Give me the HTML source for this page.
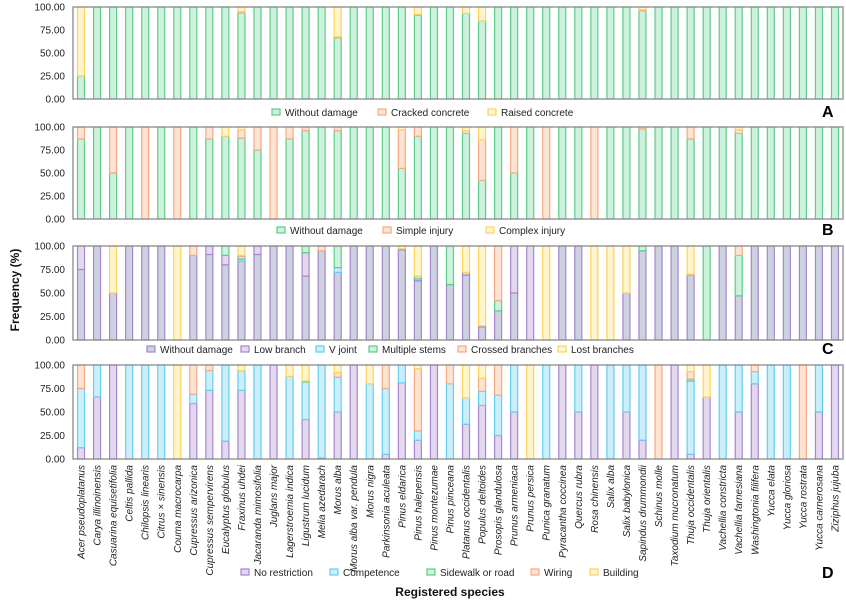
<!DOCTYPE html>
<html><head><meta charset="utf-8"><style>
html,body{margin:0;padding:0;background:#fff;}
svg{display:block;font-family:"Liberation Sans","DejaVu Sans",sans-serif;}
</style></head><body>
<svg id="chart" width="846" height="606" viewBox="0 0 846 606" xmlns="http://www.w3.org/2000/svg">
<text transform="translate(19,290) rotate(-90)" text-anchor="middle" font-size="12" font-weight="bold" fill="#111">Frequency (%)</text>
<text x="450" y="596" text-anchor="middle" font-size="12" font-weight="bold" fill="#111">Registered species</text>
</svg>
<script>
const species = ["Acer pseudoplatanus","Carya illinoinensis","Casuarina equisetifolia","Celtis pallida","Chilopsis linearis","Citrus × sinensis","Couma macrocarpa","Cupressus arizonica","Cupressus sempervirens","Eucalyptus globulus","Fraxinus uhdei","Jacaranda mimosifolia","Juglans major","Lagerstroemia indica","Ligustrum lucidum","Melia azedarach","Morus alba","Morus alba var. pendula","Morus nigra","Parkinsonia aculeata","Pinus eldarica","Pinus halepensis","Pinus montezumae","Pinus pinceana","Platanus occidentalis","Populus deltoides","Prosopis glandulosa","Prunus armeniaca","Prunus persica","Punica granatum","Pyracantha coccinea","Quercus rubra","Rosa chinensis","Salix alba","Salix babylonica","Sapindus drummondii","Schinus molle","Taxodium mucronatum","Thuja occidentalis","Thuja orientalis","Vachellia constricta","Vachellia farnesiana","Washingtonia filifera","Yucca elata","Yucca gloriosa","Yucca rostrata","Yucca carnerosana","Ziziphus jujuba"];
const tickLabels = ["0.00","25.00","50.00","75.00","100.00"];
const tickValues = [0,25,50,75,100];

const A_withoutDamage = [25,100,100,100,100,100,100,100,100,100,93.5,100, 100,100,100,100,66.7,100,100,100,100,91,100,100, 93,85,100,100,100,100,100,100,100,100,100,96, 100,100,100,100,100,100,100,100,100,100,100,100];
const A_cracked = [0,0,0,0,0,0,0,0,0,0,1.5,0, 0,0,0,0,1,0,0,0,0,1,0,0, 0,0,0,0,0,0,0,0,0,0,0,1, 0,0,0,0,0,0,0,0,0,0,0,0];
const A_raised = [75,0,0,0,0,0,0,0,0,0,5,0, 0,0,0,0,32.3,0,0,0,0,8,0,0, 7,15,0,0,0,0,0,0,0,0,0,3, 0,0,0,0,0,0,0,0,0,0,0,0];

const B_withoutDamage = [87,100,50,100,0,100,0,100,87,90,88,75, 0,87,96,100,96,100,100,100,55,90,100,100, 93,42,100,50,100,0,100,100,0,100,100,98, 100,100,87,100,100,93,100,100,100,100,100,100];
const B_simple = [13,0,50,0,100,0,100,0,13,0,9,25, 100,13,4,0,4,0,0,0,42,10,0,0, 3,44,0,50,0,100,0,0,100,0,0,2, 0,0,13,0,0,4,0,0,0,0,0,0];
const B_complex = [0,0,0,0,0,0,0,0,0,10,3,0, 0,0,0,0,0,0,0,0,3,0,0,0, 4,14,0,0,0,0,0,0,0,0,0,0, 0,0,0,0,0,3,0,0,0,0,0,0];

const C_withoutDamage = [75,100,50,100,100,100,0,90,91,80,84,91, 100,100,68,95,72,100,100,100,96,63,100,59, 69,14,31,50,0,0,100,100,0,0,50,95, 100,100,69,0,100,47,100,100,100,100,100,100];
const C_lowBranch = [25,0,0,0,0,0,0,0,9,10,0,9, 0,0,25,0,0,0,0,0,1,2,0,0, 3,1,0,50,100,0,0,0,0,0,0,0, 0,0,0,0,0,0,0,0,0,0,0,0];
const C_vJoint = [0,0,0,0,0,0,0,0,0,0,2,0, 0,0,0,0,5,0,0,0,0,0,0,0, 0,0,0,0,0,0,0,0,0,0,0,0, 0,0,0,0,0,0,0,0,0,0,0,0];
const C_multiStems = [0,0,0,0,0,0,0,0,0,10,3,0, 0,0,7,0,23,0,0,0,0,3,0,41, 0,0,11,0,0,0,0,0,0,0,0,5, 0,0,0,100,0,43,0,0,0,0,0,0];
const C_crossed = [0,0,0,0,0,0,0,10,0,0,1,0, 0,0,0,5,0,0,0,0,0,0,0,0, 0,0,58,0,0,0,0,0,0,0,0,0, 0,0,1,0,0,10,0,0,0,0,0,0];
const C_lost = [0,0,50,0,0,0,100,0,0,0,10,0, 0,0,0,0,0,0,0,0,3,32,0,0, 28,85,0,0,0,100,0,0,100,100,50,0, 0,0,30,0,0,0,0,0,0,0,0,0];

const D_noRestriction = [12,66,100,0,0,0,0,59,73,19,73,0, 100,0,42,1,50,100,0,5,81,20,100,0, 37,57,25,50,0,0,100,50,100,0,50,20, 0,100,5,66,0,50,80,0,0,0,50,100];
const D_competence = [63,34,0,100,100,100,0,10,21,81,21,100, 0,88,40,99,37,0,80,70,19,10,0,80, 28,15,43,50,0,100,0,50,0,100,50,80, 0,0,78,0,100,50,13,100,100,0,50,0];
const D_sidewalk = [0,0,0,0,0,0,0,0,0,0,0,0, 0,0,1,0,0,0,0,0,0,0,0,0, 0,0,0,0,0,0,0,0,0,0,0,0, 0,0,2,0,0,0,0,0,0,0,0,0];
const D_wiring = [25,0,0,0,0,0,0,31,6,0,0,0, 0,0,0,0,5,0,0,25,0,66,0,20, 0,14,32,0,0,0,0,0,0,0,0,0, 100,0,8,0,0,0,7,0,0,100,0,0];
const D_building = [0,0,0,0,0,0,100,0,0,0,6,0, 0,12,17,0,8,0,20,0,0,4,0,0, 35,14,0,0,100,0,0,0,0,0,0,0, 0,0,7,34,0,0,0,0,0,0,0,0];

const COL = {
  green:["#cdf2dc","#5fcb8c"], orange:["#fde3d2","#f4aa84"], yellow:["#fff4cc","#fbd45e"],
  gray:["#cdd1e0","#a487cf"], lilac:["#e4d8ef","#a487cf"], blue:["#cbeefb","#66cdf0"]
};
const panels = [
  {id:"a", letter:"A", top:7, bottom:99, legendY:115, series:[
    {name:"Without damage", v:A_withoutDamage, c:COL.green, lx:272},
    {name:"Cracked concrete", v:A_cracked, c:COL.orange, lx:378},
    {name:"Raised concrete", v:A_raised, c:COL.yellow, lx:488}]},
  {id:"b", letter:"B", top:127, bottom:219, legendY:233, series:[
    {name:"Without damage", v:B_withoutDamage, c:COL.green, lx:277},
    {name:"Simple injury", v:B_simple, c:COL.orange, lx:383},
    {name:"Complex injury", v:B_complex, c:COL.yellow, lx:486}]},
  {id:"c", letter:"C", top:246, bottom:340, legendY:352, series:[
    {name:"Without damage", v:C_withoutDamage, c:COL.gray, lx:147},
    {name:"Low branch", v:C_lowBranch, c:COL.lilac, lx:241},
    {name:"V joint", v:C_vJoint, c:COL.blue, lx:316},
    {name:"Multiple stems", v:C_multiStems, c:COL.green, lx:369},
    {name:"Crossed branches", v:C_crossed, c:COL.orange, lx:458},
    {name:"Lost branches", v:C_lost, c:COL.yellow, lx:558}]},
  {id:"d", letter:"D", top:365, bottom:459, legendY:575, series:[
    {name:"No restriction", v:D_noRestriction, c:COL.lilac, lx:241},
    {name:"Competence", v:D_competence, c:COL.blue, lx:330},
    {name:"Sidewalk or road", v:D_sidewalk, c:COL.green, lx:427},
    {name:"Wiring", v:D_wiring, c:COL.orange, lx:531},
    {name:"Building", v:D_building, c:COL.yellow, lx:590}]}
];
const NS="http://www.w3.org/2000/svg";
const svg=document.getElementById("chart");
const X0=73, X1=843, band=(X1-X0)/species.length, barW=7;
function xCenter(i){return X0+band*(i+0.5);}
function mk(tag,attrs,parent){const e=document.createElementNS(NS,tag);for(const k in attrs)e.setAttribute(k,attrs[k]);(parent||svg).appendChild(e);return e;}

panels.forEach(p=>{
  const g=mk("g",{});
  
  
  const y=v=>p.bottom-(p.bottom-p.top)*v/100;
  tickValues.forEach((tv,k)=>{
    const t=mk("text",{x:65,y:y(tv)+3.5,"text-anchor":"end","font-size":"10",fill:"#222"},g);
    t.textContent=tickLabels[k];
    
    
  });
  species.forEach((s,i)=>{
    let acc=0;
    p.series.forEach((se,si)=>{
      const v=se.v[i]; if(!v) return;
      const r=mk("rect",{x:xCenter(i)-barW/2,y:y(acc+v),width:barW,height:y(acc)-y(acc+v),fill:se.c[0],stroke:se.c[1],"stroke-width":"1.2"},g);
      
      
      acc+=v;
    });
  });
  const frame=mk("rect",{x:X0,y:p.top,width:X1-X0,height:p.bottom-p.top,fill:"none",stroke:"#8a8a8a","stroke-width":"1.3"},g);
  
  
  p.series.forEach(se=>{
    const sq=mk("rect",{x:se.lx,y:p.legendY-6,width:8,height:6,fill:se.c[0],stroke:se.c[1],"stroke-width":"1.2"},g);
    
    
    const t=mk("text",{x:se.lx+13,y:p.legendY+1,"font-size":"10",fill:"#222"},g);
    t.textContent=se.name;
    
    
  });
  const L=mk("text",{x:822,y:p.legendY+(p.id==="d"?3:2),"font-size":"16","font-weight":"bold",fill:"#000"},g);
  L.textContent=p.letter;
  
  
});
species.forEach((s,i)=>{
  const t=mk("text",{transform:"translate("+(xCenter(i)+3.5)+",465) rotate(-90)","text-anchor":"end","font-size":"10","font-style":"italic",fill:"#222"});
  t.textContent=s;
  
  
});
</script>
</body></html>
